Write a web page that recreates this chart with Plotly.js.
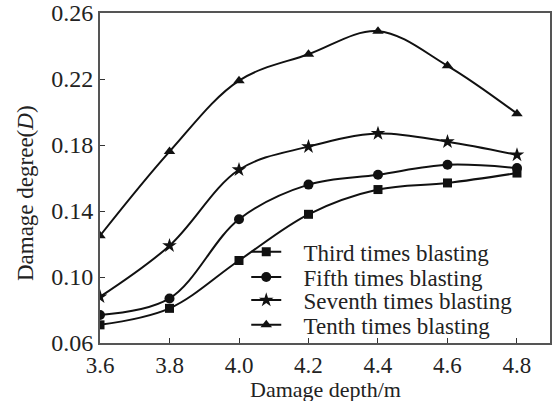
<!DOCTYPE html>
<html><head><meta charset="utf-8">
<script src="https://cdn.plot.ly/plotly-3.0.1.min.js"></script>
<style>html,body{margin:0;padding:0;background:#fff}</style>
</head><body><div id="chart" style="width:552px;height:401px"></div>
<script>
const depth = [3.6, 3.8, 4.0, 4.2, 4.4, 4.6, 4.8];
const third   = [0.071, 0.081, 0.110, 0.138, 0.153, 0.157, 0.163];
const fifth   = [0.077, 0.087, 0.135, 0.156, 0.162, 0.168, 0.166];
const seventh = [0.088, 0.119, 0.165, 0.179, 0.187, 0.182, 0.174];
const tenth   = [0.125, 0.176, 0.219, 0.235, 0.249, 0.228, 0.199];
const names = ["Third times blasting", "Fifth times blasting", "Seventh times blasting", "Tenth times blasting"];
const xTitle = "Damage depth/m";
const yTitle = "Damage degree(<i>D</i>)";
const xTicks = [3.6, 3.8, 4.0, 4.2, 4.4, 4.6, 4.8];
const xTickText = ["3.6", "3.8", "4.0", "4.2", "4.4", "4.6", "4.8"];
const yTicks = [0.06, 0.10, 0.14, 0.18, 0.22, 0.26];
const yTickText = ["0.06", "0.10", "0.14", "0.18", "0.22", "0.26"];

const series = [third, fifth, seventh, tenth];
const symbols = ["square", "circle", "star", "triangle-up"];
const sizes = [9, 10, 11, 10];
const legendIds = ["legend", "legend2", "legend3", "legend4"];
const legendY = [0.276, 0.200, 0.130, 0.055];
const font = "Liberation Serif, Times New Roman, serif";
const nb = "\u00a0";

const traces = series.map((s, i) => ({
  x: depth, y: s, name: nb + nb + nb + names[i], type: "scatter", mode: "lines+markers",
  legend: legendIds[i],
  line: {color: "#111", width: 2, shape: "spline", smoothing: 1},
  marker: {symbol: symbols[i], size: sizes[i], color: "#111"}
}));

const layout = {
  width: 552, height: 401,
  margin: {l: 100, r: 2, t: 13, b: 58},
  paper_bgcolor: "#fff", plot_bgcolor: "#fff",
  font: {family: font, size: 24, color: "#222"},
  showlegend: true,
  xaxis: {range: [3.6, 4.895], tickvals: xTicks, ticktext: xTickText,
          ticks: "inside", ticklen: 5, tickcolor: "#333", showgrid: false, zeroline: false,
          showline: true, linecolor: "#555", linewidth: 2, mirror: true,
          tickfont: {family: font, size: 23, color: "#222"}},
  yaxis: {range: [0.06, 0.26], tickvals: yTicks, ticktext: yTickText,
          ticks: "inside", ticklen: 5, tickcolor: "#333", showgrid: false, zeroline: false,
          showline: true, linecolor: "#555", linewidth: 2, mirror: true,
          tickfont: {family: font, size: 24, color: "#222"}},
  annotations: [
    {text: xTitle, xref: "paper", yref: "paper", x: 0.5, y: -0.142,
     xanchor: "center", yanchor: "middle", showarrow: false,
     font: {family: font, size: 22, color: "#222"}},
    {text: yTitle, xref: "paper", yref: "paper", x: -0.164, y: 0.455, textangle: -90,
     xanchor: "center", yanchor: "middle", showarrow: false,
     font: {family: font, size: 23, color: "#222"}}
  ]
};
legendIds.forEach((id, i) => {
  layout[id] = {x: 0.325, y: legendY[i], xanchor: "left", yanchor: "middle",
    bgcolor: "rgba(0,0,0,0)", font: {family: font, size: 23, color: "#222"}, itemwidth: 30};
});
Plotly.newPlot("chart", traces, layout, {staticPlot: true});
</script></body></html>
